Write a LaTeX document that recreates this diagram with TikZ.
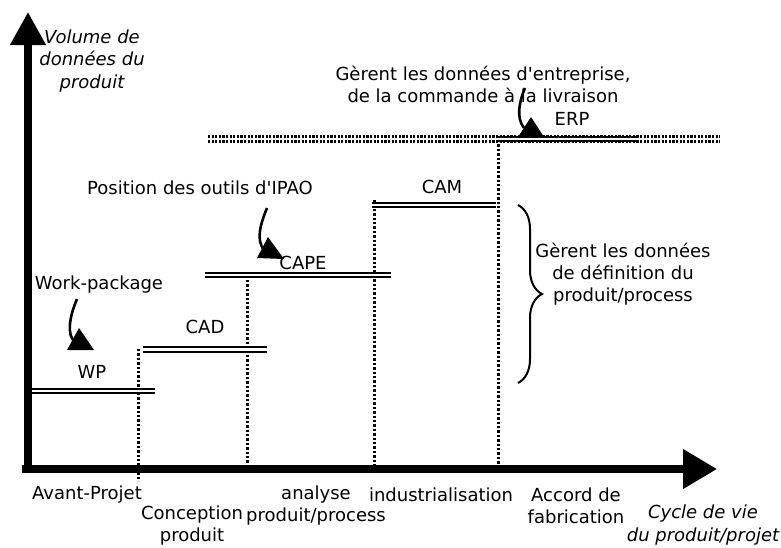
\documentclass[tikz,border=0pt]{standalone}
\usepackage{fontspec}
\setmainfont{DejaVu Sans}[Ligatures=TeXOff]
\usetikzlibrary{arrows.meta,decorations.pathreplacing}
\begin{document}
\begin{tikzpicture}[x=1pt,y=-1pt,
  lbl/.style={inner sep=0pt, align=center, font=\fontsize{18}{22}\selectfont},
  ilbl/.style={lbl, font=\fontsize{18}{22.5}\selectfont\itshape},
  stepline/.style={double, double distance=2.4pt, line width=2pt},
  vdot/.style={line width=3pt, dash pattern=on 2.4pt off 2pt},
  hdot/.style={line width=2.4pt, dash pattern=on 2.2pt off 1.4pt},
  axis/.style={line width=7.5pt},
  pointer/.style={line width=2.6pt},
  tri/.style={fill=black}]
\useasboundingbox (0,0) rectangle (781,547);

% ERP dotted horizontal band
\coordinate (hl) at (208,136.5);
\coordinate (hr) at (720,136.5);
\coordinate (hl2) at (208,141.5);
\coordinate (hr2) at (720,141.5);
\draw[hdot] (hl) -- (hr);
\draw[hdot] (hl2) -- (hr2);

% step end points
\coordinate (wpA) at (31,391);   \coordinate (wpB) at (155,391);
\coordinate (cadA) at (143,349.5); \coordinate (cadB) at (267,349.5);
\coordinate (capeA) at (205,275); \coordinate (capeB) at (391,275);
\coordinate (camA) at (372,205); \coordinate (camB) at (496,205);
\coordinate (erpA) at (496,139); \coordinate (erpB) at (637,139);

% vertical dotted lines
\coordinate (v1t) at (138,349); \coordinate (v1b) at (138,481);
\coordinate (v2t) at (247,280); \coordinate (v2b) at (247,466);
\coordinate (v3t) at (374,200); \coordinate (v3b) at (374,466);
\coordinate (v4t) at (498,140); \coordinate (v4b) at (498,466);
\draw[vdot] (v1t) -- (v1b);
\draw[vdot] (v2t) -- (v2b);
\draw[vdot] (v3t) -- (v3b);
\draw[vdot] (v4t) -- (v4b);

% labels on steps
\node[lbl] (cape) at (303,263) {CAPE};
\node[lbl] (wp) at (92,372) {WP};
\node[lbl] (cad) at (205,327) {CAD};
\node[lbl] (cam) at (442,187) {CAM};
\node[lbl] (erp) at (572,119) {ERP};

% steps
\draw[stepline] (wpA) -- (wpB);
\draw[stepline] (cadA) -- (cadB);
\draw[stepline] (capeA) -- (capeB);
\draw[stepline] (camA) -- (camB);
\draw[stepline] (erpA) -- (erpB);

% annotations
\node[lbl] (wpk) at (99,285) {Work-package};
\node[lbl] (ipao) at (200,188) {Position des outils d'IPAO};
\node[lbl] (ent) at (483,84) {Gèrent les données d'entreprise,\\de la commande à la livraison};
\node[lbl] (def) at (623,274) {Gèrent les données\\de définition du\\produit/process};

% pointers
\coordinate (p1s) at (77,299); \coordinate (p1e) at (75,342);
\draw[pointer] (p1s) .. controls (70,315) and (66,335) .. (p1e);
\fill[tri] (67,350) -- (94,350) -- (79,328) -- cycle;

\coordinate (p2s) at (267,208); \coordinate (p2e) at (264,250);
\draw[pointer] (p2s) .. controls (260,225) and (256,240) .. (p2e);
\fill[tri] (257,258) -- (284,259) -- (268,237) -- cycle;

\coordinate (p3s) at (525,88); \coordinate (p3e) at (524,128);
\draw[pointer] (p3s) .. controls (519,102) and (516,118) .. (p3e);
\fill[tri] (518,137) -- (544,137) -- (531,117) -- cycle;

% brace
\coordinate (bt) at (518,205); \coordinate (bb) at (518,383);
\draw[line width=2pt, decorate, decoration={brace, amplitude=24pt}] (bt) -- (bb);

% axes
\coordinate (xo) at (22,469);
\coordinate (xe) at (717,469);
\coordinate (yo) at (28,473);
\coordinate (ye) at (28,12);
\draw[axis, -{Triangle[length=33pt,width=34pt]}] (yo) -- (ye);
\draw[axis, -{Triangle[length=34pt,width=38pt]}] (xo) -- (xe);

% axis titles
\node[ilbl] (vol) at (92,61) {Volume de\\données du\\produit};
\node[ilbl] (cyc) at (703,525) {Cycle de vie\\du produit/projet};

% phase labels
\node[lbl] (avant) at (87,495) {Avant-Projet};
\node[lbl] (conc) at (192,526) {Conception\\produit};
\node[lbl] (ana) at (316,506) {analyse\\produit/process};
\node[lbl] (ind) at (441,495) {industrialisation};
\node[lbl] (acc) at (576,506) {Accord de\\fabrication};
\end{tikzpicture}
\end{document}
